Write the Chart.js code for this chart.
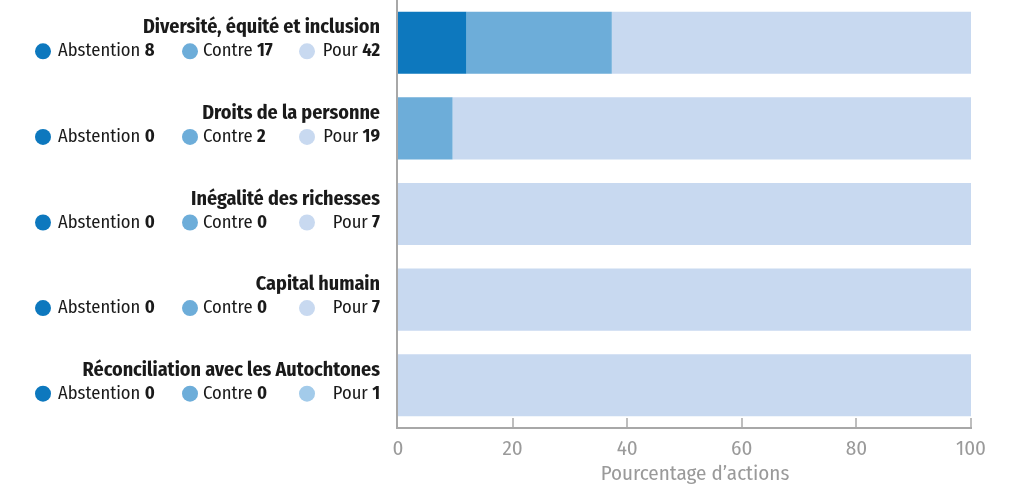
<!DOCTYPE html>
<html>
<head>
<meta charset="utf-8">
<script src="https://cdn.jsdelivr.net/npm/chart.js@4.4.1/dist/chart.umd.min.js"></script>
<style>
html,body{margin:0;padding:0;background:#fff;}
#wrap{width:1014px;height:487px;position:relative;}
</style>
</head>
<body>
<div id="wrap"><canvas id="c" width="1014" height="487"></canvas></div>
<script>
const categories = ["Diversité, équité et inclusion","Droits de la personne","Inégalité des richesses","Capital humain","Réconciliation avec les Autochtones"];
const abstentionCounts = [8,0,0,0,0];
const contreCounts = [17,2,0,0,0];
const pourCounts = [42,19,7,7,1];
const xTicks = [0,20,40,60,80,100];
const seriesNames = ["Abstention","Contre","Pour"];
const axisTitle = "Pourcentage d\u2019actions";

const colors = ["#0d78be","#6dadd9","#c8d9f0"];
const FONT = "'Fira Sans Condensed','Roboto Condensed',sans-serif";

const totals = categories.map((_,i)=>abstentionCounts[i]+contreCounts[i]+pourCounts[i]);
const pct = arr => arr.map((v,i)=>v/totals[i]*100);

const leftLabels = {
  id:'leftLabels',
  afterDraw(chart){
    const ctx = chart.ctx, y = chart.scales.y, x = chart.scales.x, ca = chart.chartArea;
    ctx.save();
    ctx.strokeStyle = '#a8a8a8';
    ctx.lineWidth = 2;
    ctx.beginPath(); ctx.moveTo(ca.left-1, ca.top); ctx.lineTo(ca.left-1, ca.bottom+1); ctx.stroke();
    ctx.beginPath(); ctx.moveTo(ca.left-2, ca.bottom); ctx.lineTo(ca.right+1, ca.bottom); ctx.stroke();
    ctx.lineWidth = 1.5;
    xTicks.forEach(t=>{
      if (t===0) return;
      const px = Math.round(x.getPixelForValue(t));
      ctx.beginPath(); ctx.moveTo(px, ca.bottom); ctx.lineTo(px, ca.bottom-10); ctx.stroke();
    });
    ctx.textBaseline = 'middle';
    categories.forEach((cat,i)=>{
      const yc = y.getPixelForValue(i);
      ctx.font = "bold 20px " + FONT;
      ctx.textAlign = 'right';
      ctx.fillStyle = '#1a1a1a';
      ctx.fillText(cat, 380, yc-15);
      const vals = [abstentionCounts[i], contreCounts[i], pourCounts[i]];
      const cx = [43,190,307];
      const circ = [colors[0], colors[1], i===categories.length-1 ? '#a3cbea' : colors[2]];
      const ry = yc+8.5;
      for (let k=0;k<3;k++){
        ctx.fillStyle = circ[k];
        ctx.beginPath(); ctx.arc(cx[k], ry, 8, 0, Math.PI*2); ctx.fill();
      }
      ctx.fillStyle = '#1a1a1a';
      const lx = [58,203];
      for (let k=0;k<2;k++){
        ctx.textAlign = 'left';
        ctx.font = "18.5px " + FONT;
        const s = seriesNames[k] + " ";
        ctx.fillText(s, lx[k], ry);
        const w = ctx.measureText(s).width;
        ctx.font = "bold 18.5px " + FONT;
        ctx.fillText(String(vals[k]), lx[k]+w, ry);
      }
      ctx.textAlign = 'right';
      ctx.font = "bold 18.5px " + FONT;
      const vs = String(vals[2]);
      ctx.fillText(vs, 380, ry);
      const vw = ctx.measureText(vs).width;
      ctx.font = "18.5px " + FONT;
      ctx.fillText(seriesNames[2] + " ", 380 - vw, ry);
    });
    ctx.restore();
  }
};

new Chart(document.getElementById('c'), {
  type: 'bar',
  data: {
    labels: categories,
    datasets: [
      {label: seriesNames[0], data: pct(abstentionCounts), backgroundColor: colors[0]},
      {label: seriesNames[1], data: pct(contreCounts), backgroundColor: colors[1]},
      {label: seriesNames[2], data: pct(pourCounts), backgroundColor: colors[2]}
    ]
  },
  options: {
    indexAxis: 'y',
    responsive: false,
    animation: false,
    devicePixelRatio: 1,
    layout: {padding: {left: 398, right: 43, top: 0, bottom: 0}},
    datasets: {bar: {categoryPercentage: 1, barPercentage: 0.725, borderWidth: 0}},
    plugins: {legend: {display: false}, tooltip: {enabled: false}},
    scales: {
      x: {
        stacked: true, min: 0, max: 100,
        afterBuildTicks: s => { s.ticks = xTicks.map(v=>({value:v})); },
        afterFit: s => { s.height = 59; },
        grid: {display: false, drawTicks: false},
        border: {display: false},
        ticks: {color: '#9a9a9a', font: {family: FONT, size: 21}, padding: 9, maxRotation: 0},
        title: {display: true, text: "\u2003" + axisTitle, color: '#9a9a9a', font: {family: FONT, size: 21}, padding: {top: 0, bottom: 0}}
      },
      y: {
        stacked: true, display: false
      }
    }
  },
  plugins: [leftLabels]
});
</script>
</body>
</html>
